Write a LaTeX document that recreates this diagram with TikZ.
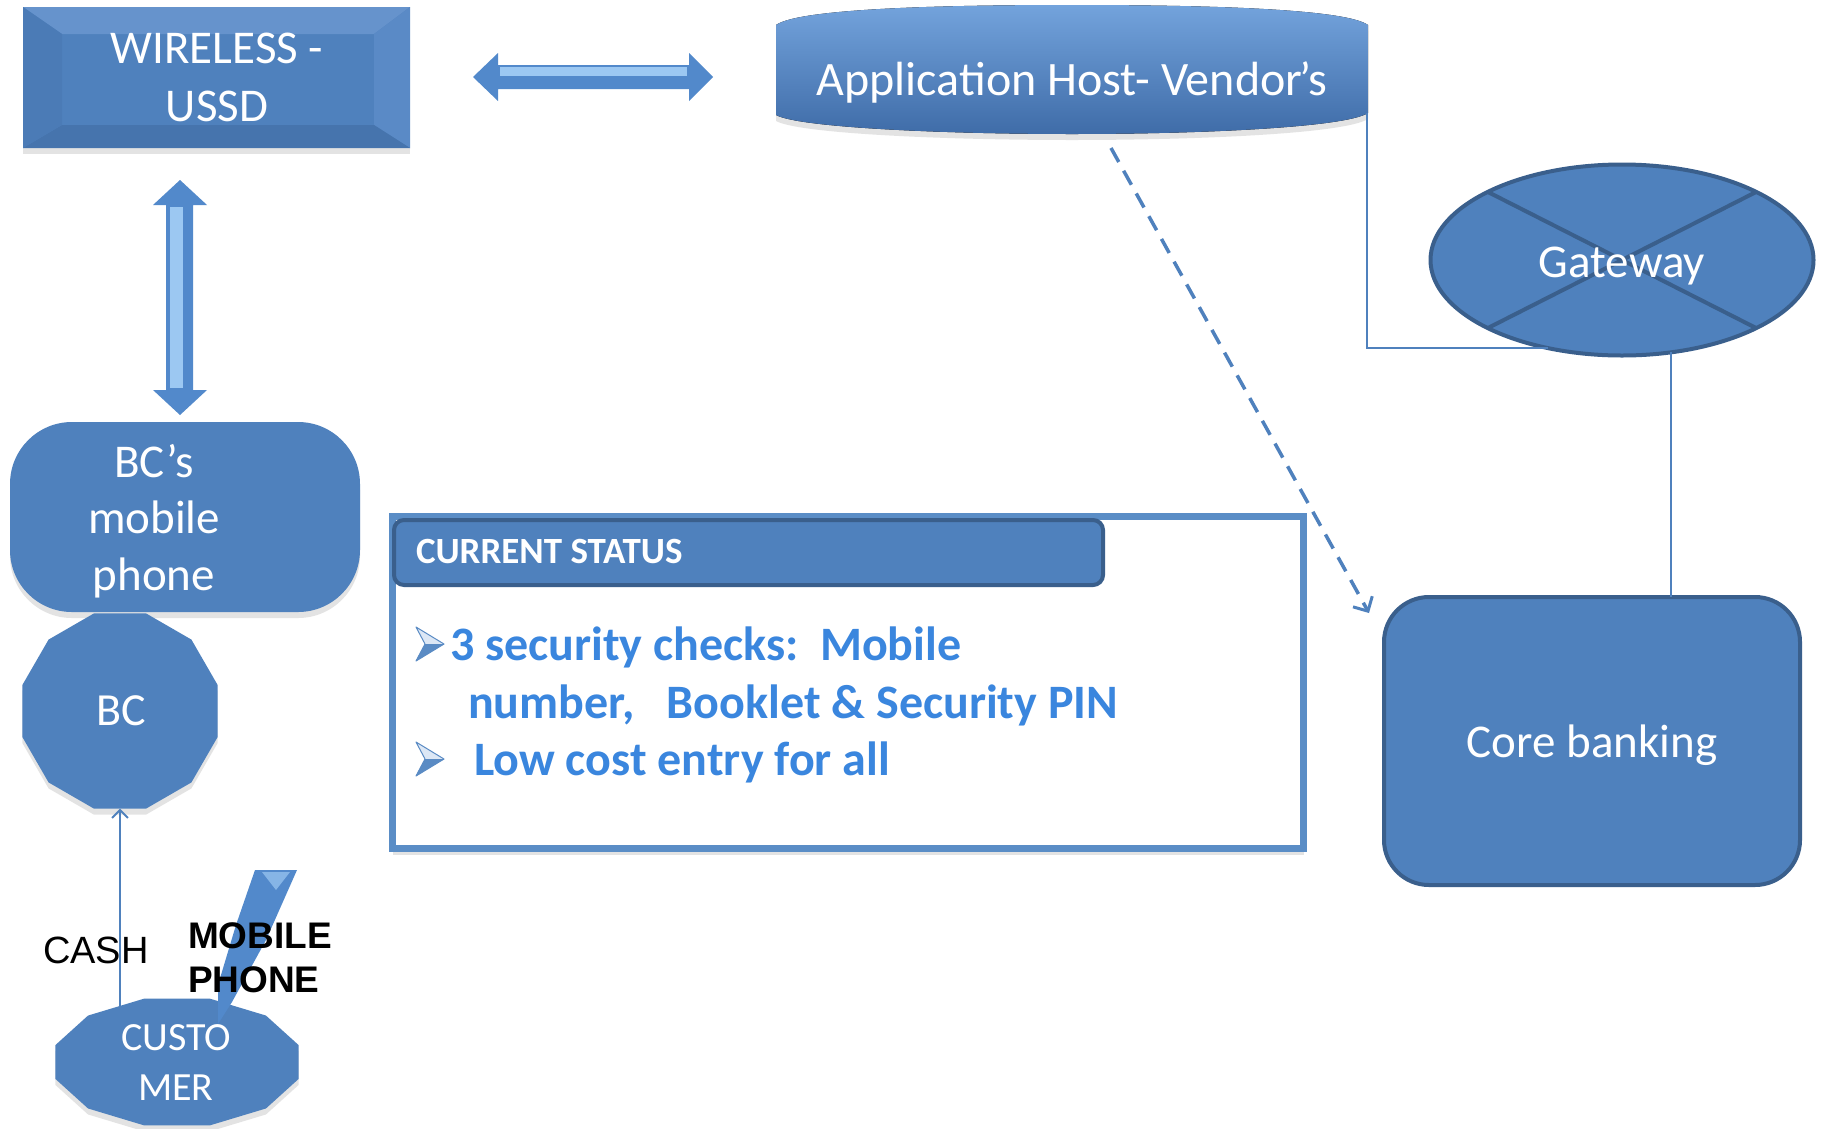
\documentclass[tikz,border=0pt]{standalone}
\usepackage{fontspec}
\setmainfont{Carlito}
\newfontfamily\arialfont{Liberation Sans}
\usetikzlibrary{shapes.geometric,arrows.meta,calc,shadows}

\definecolor{ofblue}{HTML}{4F81BD}
\definecolor{ofdark}{HTML}{3A5F8C}
\definecolor{bvtop}{HTML}{6693CC}
\definecolor{bvright}{HTML}{5A8AC6}
\definecolor{bvbottom}{HTML}{4674AD}
\definecolor{bvleft}{HTML}{4B7BB6}
\definecolor{ahtop}{HTML}{73A3DC}
\definecolor{ahbot}{HTML}{3F6CA8}
\definecolor{arrowbody}{HTML}{5289CB}
\definecolor{arrowlight}{HTML}{9CC8F2}
\definecolor{statusline}{HTML}{5A8DC6}
\definecolor{statustext}{HTML}{3A86DE}
\definecolor{bulletlight}{HTML}{DCE7F5}
\definecolor{bulletdark}{HTML}{5A8BC4}

\begin{document}
\begin{tikzpicture}[x=1pt,y=-1pt,
  every node/.style={inner sep=0pt,outer sep=0pt},
  softshadow/.style={drop shadow={shadow xshift=0pt,shadow yshift=-6pt,opacity=0.22}},
  bigtext/.style={text=white,font=\fontsize{47}{57}\selectfont},
  statusfont/.style={text=statustext,font=\bfseries\fontsize{48}{58}\selectfont,anchor=base west},
  conn/.style={draw=ofblue,line width=2pt},
  dasharrow/.style={draw=ofblue,line width=3.5pt,dash pattern=on 16pt off 10pt,
    -{Straight Barb[length=11pt,width=22pt,line width=3pt]}},
  thickarrow/.style={fill=arrowbody},
  bulletarrow/.pic={
    \fill[bulletlight] (0,-17) -- (28,0) -- (9,0) -- cycle;
    \fill[bulletdark] (9,0) -- (28,0) -- (0,17) -- cycle;
    \draw[bulletdark,line width=1pt,line join=round] (0,-17) -- (28,0) -- (0,17) -- (9,0) -- cycle;
  }]
\useasboundingbox (0,0) rectangle (1822,1128);
\fill[white] (0,0) rectangle (1822,1128);

% ---- WIRELESS - USSD (bevelled box) ----
\node[fill=ofblue,minimum width=387pt,minimum height=141pt,anchor=north west,softshadow,
  path picture={
    \coordinate (wa) at (path picture bounding box.north west);
    \coordinate (wb) at (path picture bounding box.north east);
    \coordinate (wc) at (path picture bounding box.south east);
    \coordinate (wd) at (path picture bounding box.south west);
    \coordinate (wia) at ($(wa)+(39,27)$);
    \coordinate (wib) at ($(wb)+(-36,27)$);
    \coordinate (wic) at ($(wc)+(-36,-23)$);
    \coordinate (wid) at ($(wd)+(39,-23)$);
    \fill[bvtop] (wa) -- (wb) -- (wib) -- (wia) -- cycle;
    \fill[bvright] (wb) -- (wc) -- (wic) -- (wib) -- cycle;
    \fill[bvbottom] (wc) -- (wd) -- (wid) -- (wic) -- cycle;
    \fill[bvleft] (wd) -- (wa) -- (wia) -- (wid) -- cycle;
  }] (wl) at (23,7) {};
\node[bigtext,anchor=base] (wltxt1) at (217,63) {WIRELESS -};
\node[bigtext,anchor=base] (wltxt2) at (217,121) {USSD};

% ---- horizontal double arrow ----
\fill[thickarrow] (473,77) -- (498,53) -- (498,65) -- (689,65) -- (689,53) -- (713,77)
  -- (689,101) -- (689,89) -- (498,89) -- (498,101) -- cycle;
\fill[arrowlight] (500,67) rectangle (687,76);

% ---- Application host ----
\fill[top color=ahtop,middle color=ofblue,bottom color=ahbot,softshadow]
  (776,25) .. controls (800,8) and (950,5) .. (1072,5)
  .. controls (1194,5) and (1344,8) .. (1368,25) -- (1368,113)
  .. controls (1344,128) and (1194,134) .. (1072,134)
  .. controls (950,134) and (800,128) .. (776,115) -- cycle;
\node[minimum width=593pt,minimum height=128pt] (ah) at (1072,70) {};
\node[text=white,font=\fontsize{48}{58}\selectfont,anchor=base] (ahtxt) at (1072,95)
  {Application Host- Vendor\kern-3pt’s};

% ---- vertical double arrow ----
\fill[thickarrow] (180,180) -- (207,205) -- (193,205) -- (193,390) -- (207,390) -- (180,415)
  -- (153,390) -- (166,390) -- (166,205) -- (153,205) -- cycle;
\fill[arrowlight] (170,207) rectangle (183,388);

% ---- BC's mobile phone ----
\node[rectangle,rounded corners=62pt,fill=ofblue,minimum width=350pt,minimum height=190pt,
  softshadow] (bcm) at (185,517) {};
\node[bigtext,anchor=base] (bcm1) at (154,477) {BC’s};
\node[bigtext,anchor=base] (bcm2) at (154,533) {mobile};
\node[bigtext,anchor=base] (bcm3) at (154,590) {phone};

% ---- BC (twelve-sided) ----
\fill[ofblue,softshadow] plot[samples at={15,45,...,345}]
  ({120+101*cos(\x)},{711+101*sin(\x)}) -- cycle;
\node[circle,minimum size=195pt] (bc) at (120,711) {};
\node[text=white,font=\fontsize{46}{55}\selectfont,anchor=base] (bctxt) at (121,725) {BC};

% ---- Customer ----
\fill[ofblue,softshadow] plot[samples at={15,45,...,345}]
  ({177+125.8*cos(\x)},{1062+65.7*sin(\x)}) -- cycle;
\node[ellipse,minimum width=243pt,minimum height=127pt] (cust) at (177,1062) {};

% lightning bolt for the mobile phone channel
\fill[arrowbody] (255,870) -- (297,870) -- (266,940) -- (232,1002) -- (218,1024)
  -- (218,985) -- (236,925) -- cycle;
\fill[arrowlight!70!arrowbody] (262,872) -- (290,872) -- (276,890) -- cycle;

% cash flow to the BC
\draw[conn,-{Straight Barb[length=8pt,width=16pt,line width=2pt]}]
  ([xshift=-57pt,yshift=4pt]cust.center) -- (bc.south);

\node[text=white,font=\fontsize{40}{49}\selectfont,anchor=base] (cust1) at (176,1050) {CUSTO};
\node[text=white,font=\fontsize{40}{49}\selectfont,anchor=base] (cust2) at (176,1100) {MER};

\node[font=\arialfont\fontsize{38}{44}\selectfont,anchor=base west] (cash) at (43,963) {CASH};
\node[font=\arialfont\bfseries\fontsize{37}{44}\selectfont,anchor=base west] (mob1) at (188,948) {MOBILE};
\node[font=\arialfont\bfseries\fontsize{37}{44}\selectfont,anchor=base west] (mob2) at (188,992) {PHONE};

% ---- Current status panel ----
\node[draw=statusline,line width=7pt,fill=white,minimum width=911pt,minimum height=332pt,
  softshadow] (status) at (848,682.5) {};
\node[rectangle,rounded corners=10pt,draw=ofdark,line width=4pt,fill=ofblue,
  minimum width=709pt,minimum height=65pt] (hdr) at (748.5,552.5) {};
\node[text=white,font=\bfseries\fontsize{37}{44}\selectfont,anchor=base west] (hdrtxt)
  at (416,563) {CURRENT STATUS};

\pic (bul1) at (416,644) {bulletarrow};
\pic (bul2) at (416,759) {bulletarrow};
\node[statusfont] (st1) at (450,660) {3 security checks:\ \ Mobile};
\node[statusfont] (st2) at (468,718) {number,\ \ \ Booklet \& Security PIN};
\node[statusfont] (st3) at (474,775) {Low cost entry for all};

% ---- Gateway ----
\node[ellipse,draw=ofdark,line width=4pt,fill=ofblue,minimum width=383pt,minimum height=191pt,
  path picture={
    \draw[ofdark,line width=4pt]
      ($(path picture bounding box.center)+(-136,-69)$) -- ($(path picture bounding box.center)+(136,69)$)
      ($(path picture bounding box.center)+(136,-69)$) -- ($(path picture bounding box.center)+(-136,69)$);
  }] (gw) at (1622,260) {};
\node[bigtext,anchor=base] (gwtxt) at (1622,277) {Gateway};

% ---- Core banking ----
\node[rectangle,rounded corners=45pt,draw=ofdark,line width=4pt,fill=ofblue,
  minimum width=416pt,minimum height=288pt] (cb) at (1592,741) {};
\node[bigtext,anchor=base] (cbtxt) at (1592,757) {Core banking};

% ---- connectors ----
\draw[conn] ([xshift=-2pt,yshift=-43pt]ah.east) |- (gw.230);
\draw[conn] (gw.-62.5) -- (gw.-62.5 |- cb.north);
\draw[dasharrow] ([xshift=39pt,yshift=-14pt]ah.south) -- ([xshift=-15pt,yshift=-16pt]cb.north west);

\end{tikzpicture}
\end{document}
